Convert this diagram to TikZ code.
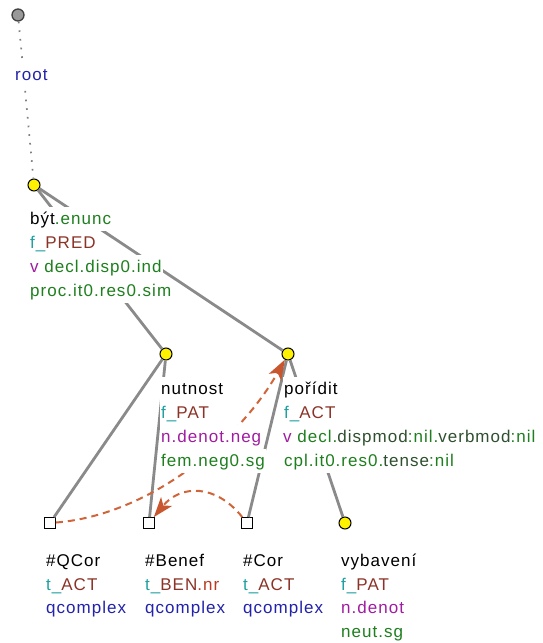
\documentclass[tikz,border=0pt]{standalone}
\usepackage{fontspec}
\newfontfamily\tredfont[LetterSpace=6]{Liberation Sans}
\usetikzlibrary{arrows.meta}
\definecolor{cteal}{HTML}{20A0A0}
\definecolor{cbrown}{HTML}{8B3326}
\definecolor{cpurple}{HTML}{A01CA0}
\definecolor{cgreen}{HTML}{1E7F1E}
\definecolor{cdkgreen}{HTML}{2F4F2F}
\definecolor{cblue}{HTML}{2222AA}
\definecolor{cred}{HTML}{B83A22}
\definecolor{cedge}{HTML}{8A8A8A}
\definecolor{ccoref}{HTML}{D0653A}
\definecolor{ctip}{HTML}{C8562E}
\begin{document}
\begin{tikzpicture}[x=1pt,y=-1pt,
 tnode/.style={circle,draw=black,fill=yellow,line width=1pt,minimum size=12pt,inner sep=0pt},
 hnode/.style={rectangle,draw=black,fill=white,line width=1.3pt,minimum size=10.5pt,inner sep=0pt},
 rnode/.style={circle,draw=black!75,fill=black!40,line width=1.3pt,minimum size=12pt,inner sep=0pt},
 edge/.style={draw=cedge,line width=2.8pt},
 rootedge/.style={draw=black!50,line width=1.7pt,dash pattern=on 1.7pt off 7pt},
 coref/.style={draw=ccoref,line width=2pt,dash pattern=on 7pt off 5pt,-{Stealth[length=20pt,width=14pt,inset=5pt,color=ctip]}},
 lbl/.style={anchor=base west,inner xsep=1pt,inner ysep=0pt,fill=white,text height=17pt,text depth=7pt,font=\tredfont\fontsize{17}{20}\selectfont}]
\useasboundingbox (0,0) rectangle (542,643);
% nodes
\node[rnode] (root) at (18,15) {};
\node[tnode] (byt) at (34,185) {};
\node[tnode] (nutnost) at (166,354) {};
\node[tnode] (poridit) at (288,354) {};
\node[hnode] (qcor) at (50,523) {};
\node[hnode] (benef) at (149,523) {};
\node[hnode] (cor) at (247,523) {};
\node[tnode] (vybaveni) at (345,523) {};
% edges
\draw[rootedge] (root) -- (byt);
\draw[edge] (byt) -- (nutnost);
\draw[edge] (byt) -- (poridit);
\draw[edge] (nutnost) -- (qcor);
\draw[edge] (nutnost) -- (benef);
\draw[edge] (poridit) -- (cor);
\draw[edge] (poridit) -- (vybaveni);
% coreference arrows
\draw[coref] (qcor) .. controls (150,515) and (240,440) .. (poridit);
\draw[coref] (cor) .. controls (215,483) and (180,485) .. (benef);
% labels
\node[lbl] (rootA) at (14,80) {\color{cblue}root};
\node[lbl] (bytA) at (29,224) {být\color{cgreen}.enunc};
\node[lbl] (bytB) at (29,248) {\color{cteal}f\_\color{cbrown}PRED};
\node[lbl] (bytC) at (29,272) {\color{cpurple}v \color{cgreen}decl.disp0.ind};
\node[lbl] (bytD) at (29,296) {\color{cgreen}proc.it0.res0.sim};
\node[lbl] (nutA) at (160,394) {nutnost};
\node[lbl] (nutB) at (160,418) {\color{cteal}f\_\color{cbrown}PAT};
\node[lbl] (nutC) at (160,442) {\color{cpurple}n.denot.neg};
\node[lbl] (nutD) at (160,466) {\color{cgreen}fem.neg0.sg};
\node[lbl] (porA) at (283,394) {pořídit};
\node[lbl] (porB) at (283,418) {\color{cteal}f\_\color{cbrown}ACT};
\node[lbl] (porC) at (282,442) {\color{cpurple}v \color{cgreen}decl.\color{cdkgreen}dispmod\color{cgreen}:nil.\color{cdkgreen}verbmod\color{cgreen}:nil};
\node[lbl] (porD) at (283,466) {\color{cgreen}cpl.it0.res0.\color{cdkgreen}tense\color{cgreen}:nil};
\node[lbl] (qcorA) at (45,566) {\#QCor};
\node[lbl] (qcorB) at (45,590) {\color{cteal}t\_\color{cbrown}ACT};
\node[lbl] (qcorC) at (45,613) {\color{cblue}qcomplex};
\node[lbl] (benA) at (144,566) {\#Benef};
\node[lbl] (benB) at (144,590) {\color{cteal}t\_\color{cbrown}BEN\color{cred}.nr};
\node[lbl] (benC) at (144,613) {\color{cblue}qcomplex};
\node[lbl] (corA) at (242,566) {\#Cor};
\node[lbl] (corB) at (242,590) {\color{cteal}t\_\color{cbrown}ACT};
\node[lbl] (corC) at (242,613) {\color{cblue}qcomplex};
\node[lbl] (vybA) at (340,566) {vybavení};
\node[lbl] (vybB) at (340,590) {\color{cteal}f\_\color{cbrown}PAT};
\node[lbl] (vybC) at (340,613) {\color{cpurple}n.denot};
\node[lbl] (vybD) at (340,637) {\color{cgreen}neut.sg};
\end{tikzpicture}
\end{document}
